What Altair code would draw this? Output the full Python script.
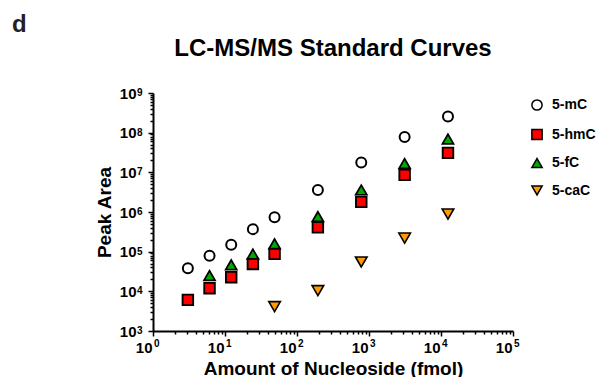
import altair as alt
import pandas as pd

# ---- data ----
amount_all = [3.05, 6.1, 12.2, 24.4, 48.8, 195, 781, 3125, 12500]
mC_y = [38000, 79000, 150000, 370000, 740000, 3.6e6, 1.78e7, 7.8e7, 2.57e8]
hmC_y = [6100, 12000, 22700, 49000, 88000, 4.1e5, 1.8e6, 8.7e6, 3.1e7]
fC_x = [6.1, 12.2, 24.4, 48.8, 195, 781, 3125, 12500]
fC_y = [25000, 46700, 87000, 158000, 7.7e5, 3.6e6, 1.66e7, 6.9e7]
caC_x = [48.8, 195, 781, 3125, 12500]
caC_y = [4100, 10400, 55000, 2.2e5, 8.9e5]

series_names = ["5-mC", "5-hmC", "5-fC", "5-caC"]
fills = ["white", "#FF0000", "#00A800", "#FF9A00"]
shapes = ["circle", "square", "triangle-up", "triangle-down"]
sizes = [100, 135, 160, 160]
strokes = [2.0, 1.6, 1.6, 1.6]

# tick label exponents (labels read "10" with a superscript exponent)
x_exponents = [0, 1, 2, 3, 4, 5]
y_exponents = [3, 4, 5, 6, 7, 8, 9]

rows = []
for name, xs, ys in [("5-mC", amount_all, mC_y), ("5-hmC", amount_all, hmC_y),
                     ("5-fC", fC_x, fC_y), ("5-caC", caC_x, caC_y)]:
    for xv, yv in zip(xs, ys):
        rows.append({"x": xv, "y": yv, "series": name, "ord": series_names.index(name)})
df = pd.DataFrame(rows)

x_ticks = [m * 10 ** k for k in range(0, 5) for m in range(1, 10)] + [10 ** 5]
y_ticks = [m * 10 ** k for k in range(3, 9) for m in range(1, 10)] + [10 ** 9]

is_major = "abs(log(datum.value)/LN10 - round(log(datum.value)/LN10)) < 0.001"
label_expr = "(" + is_major + ") ? '10' : ''"

FONT = "Liberation Sans"

xscale = alt.Scale(type="log", domain=[1, 1e5], nice=False)
yscale = alt.Scale(type="log", domain=[1e3, 1e9], nice=False)

def make_axis(title, values, pad, tpad, **kw):
    return alt.Axis(
        title=title, values=values, labelExpr=label_expr, grid=False,
        labelOverlap=False, labelFlush=False, labelBound=False,
        tickSize={"condition": {"test": is_major, "value": 5}, "value": 3},
        tickWidth=1.5, tickColor="black", domainColor="black", domainWidth=2,
        labelFont=FONT, labelFontSize=15, labelFontWeight="bold", labelColor="black",
        labelPadding=pad, titleFont=FONT, titleFontSize=19, titleFontWeight="bold",
        titleColor="black", titlePadding=tpad, **kw
    )

points = alt.Chart(df).mark_point(filled=True, stroke="black", opacity=1).encode(
    x=alt.X("x:Q", scale=xscale,
            axis=make_axis("Amount of Nucleoside (fmol)", x_ticks, 4, 4,
                           labelAlign="right", labelOffset=-1)),
    y=alt.Y("y:Q", scale=yscale,
            axis=make_axis("Peak Area", y_ticks, 12, 5)),
    fill=alt.Fill("series:N", scale=alt.Scale(domain=series_names, range=fills),
                  legend=alt.Legend(title=None, orient="right", offset=12, padding=5,
                                    symbolSize=105, symbolStrokeColor="black",
                                    symbolStrokeWidth=1.5, labelFont=FONT, labelFontSize=14,
                                    labelFontWeight="bold", labelColor="black",
                                    labelOffset=8, rowPadding=11.5)),
    shape=alt.Shape("series:N", scale=alt.Scale(domain=series_names, range=shapes)),
    size=alt.Size("ord:O", scale=alt.Scale(domain=[0, 1, 2, 3], range=sizes), legend=None),
    strokeWidth=alt.StrokeWidth("ord:O", scale=alt.Scale(domain=[0, 1, 2, 3], range=strokes),
                                legend=None),
    order=alt.Order("ord:Q"),
)

xexp_df = pd.DataFrame({"v": [10.0 ** e for e in x_exponents], "e": [str(e) for e in x_exponents]})
yexp_df = pd.DataFrame({"v": [10.0 ** e for e in y_exponents], "e": [str(e) for e in y_exponents]})

x_sup = alt.Chart(xexp_df).mark_text(
    align="left", baseline="alphabetic", font=FONT, fontSize=10, fontWeight="bold",
    color="black", dx=1
).encode(x=alt.X("v:Q", scale=xscale), y=alt.value(254), text="e:N")

y_sup = alt.Chart(yexp_df).mark_text(
    align="left", baseline="alphabetic", font=FONT, fontSize=10, fontWeight="bold",
    color="black", dy=3
).encode(y=alt.Y("v:Q", scale=yscale), x=alt.value(-16), text="e:N")

label_d = alt.Chart(alt.Data(values=[{"t": "d"}])).mark_text(
    text="d", align="left", baseline="alphabetic", font=FONT, fontSize=24,
    fontWeight="bold", color="#222222"
).encode(x=alt.value(-141), y=alt.value(-61))

title_txt = alt.Chart(alt.Data(values=[{"t": "title"}])).mark_text(
    text="LC-MS/MS Standard Curves", align="center", baseline="alphabetic", font=FONT,
    fontSize=24, fontWeight="bold", color="black"
).encode(x=alt.value(180), y=alt.value(-37))

chart = alt.layer(points, x_sup, y_sup, label_d, title_txt).properties(
    width=360, height=238,
    autosize=alt.AutoSizeParams(type="none"),
    padding={"left": 145, "top": 85, "right": 85, "bottom": 46},
).configure_view(stroke=None)

chart.save("out.html", embed_options={"renderer": "svg", "actions": False})
